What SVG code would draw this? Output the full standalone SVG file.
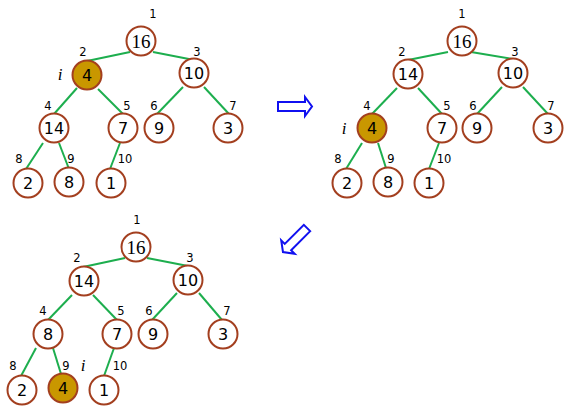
<svg xmlns="http://www.w3.org/2000/svg" width="564" height="411" viewBox="0 0 564 411">
<style>
.n{fill:#fff;stroke:#A33F1F;stroke-width:2}
.g{fill:#C99700;stroke:#A33F1F;stroke-width:2}
.e{stroke:#1DAE4E;stroke-width:2;fill:none}
.t{font-family:"DejaVu Sans","Liberation Sans",sans-serif;font-size:16px;text-anchor:middle;fill:#000}
.r{font-family:"Liberation Serif","Times New Roman",serif;font-size:19px;text-anchor:middle;fill:#000}
.x{font-family:"DejaVu Sans","Liberation Sans",sans-serif;font-size:11.5px;text-anchor:middle;fill:#000}
.i{font-family:"Liberation Serif","Times New Roman",serif;font-style:italic;font-size:17px;text-anchor:middle;fill:#000}
.a{fill:#fff;stroke:#1010F0;stroke-width:2;stroke-linejoin:miter}
</style>
<defs>
<polygon id="arr" points="-17,-4.5 10,-4.5 10,-9.5 17,0 10,9.5 10,4.5 -17,4.5"/>
</defs>
<g id="connectors">
<!-- tree 1 -->
<line class="e" x1="130" y1="52" x2="87" y2="61"/>
<line class="e" x1="153" y1="52" x2="194" y2="60"/>
<line class="e" x1="77" y1="88" x2="54" y2="114"/>
<line class="e" x1="98" y1="89" x2="123" y2="114"/>
<line class="e" x1="183" y1="87" x2="157" y2="114"/>
<line class="e" x1="204" y1="87" x2="229" y2="114"/>
<line class="e" x1="43" y1="143" x2="26" y2="169"/>
<line class="e" x1="59" y1="143" x2="69" y2="169"/>
<line class="e" x1="120" y1="143" x2="110" y2="169"/>
<!-- tree 2 -->
<line class="e" x1="448" y1="52" x2="408" y2="60"/>
<line class="e" x1="471" y1="52" x2="513" y2="59"/>
<line class="e" x1="397" y1="88" x2="372" y2="114"/>
<line class="e" x1="418" y1="88" x2="442" y2="114"/>
<line class="e" x1="502" y1="87" x2="477" y2="114"/>
<line class="e" x1="523" y1="87" x2="548" y2="114"/>
<line class="e" x1="362" y1="143" x2="346" y2="169"/>
<line class="e" x1="378" y1="143" x2="386" y2="168"/>
<line class="e" x1="439" y1="143" x2="429" y2="169"/>
<!-- tree 3 -->
<line class="e" x1="125" y1="258" x2="83" y2="267"/>
<line class="e" x1="147" y1="258" x2="188" y2="266"/>
<line class="e" x1="72" y1="295" x2="48" y2="320"/>
<line class="e" x1="93" y1="295" x2="117" y2="320"/>
<line class="e" x1="177" y1="293" x2="152" y2="320"/>
<line class="e" x1="199" y1="293" x2="222" y2="320"/>
<line class="e" x1="36" y1="348" x2="21" y2="376"/>
<line class="e" x1="53" y1="348" x2="61" y2="374"/>
<line class="e" x1="114" y1="348" x2="104" y2="376"/>
</g>
<!-- tree 1 -->
<g id="t1-n1"><circle class="n" cx="141" cy="41" r="14.5"/><text class="r" x="141" y="47.5">16</text><text class="x" x="153" y="18">1</text></g>
<g id="t1-n2"><circle class="g" cx="87" cy="75" r="14.5"/><text class="t" x="87" y="81">4</text><text class="x" x="83" y="56">2</text><text class="i" x="60" y="80">i</text></g>
<g id="t1-n3"><circle class="n" cx="194" cy="73" r="14.5"/><text class="t" x="194" y="79">10</text><text class="x" x="197" y="56">3</text></g>
<g id="t1-n4"><circle class="n" cx="54" cy="128" r="14.5"/><text class="t" x="54" y="134">14</text><text class="x" x="48" y="110">4</text></g>
<g id="t1-n5"><circle class="n" cx="123" cy="128" r="14.5"/><text class="t" x="123" y="134">7</text><text class="x" x="127" y="110">5</text></g>
<g id="t1-n6"><circle class="n" cx="159" cy="128" r="14.5"/><text class="t" x="159" y="134">9</text><text class="x" x="154" y="110">6</text></g>
<g id="t1-n7"><circle class="n" cx="228" cy="128" r="14.5"/><text class="t" x="228" y="134">3</text><text class="x" x="233" y="110">7</text></g>
<g id="t1-n8"><circle class="n" cx="28" cy="183" r="14.5"/><text class="t" x="28" y="189">2</text><text class="x" x="19" y="163">8</text></g>
<g id="t1-n9"><circle class="n" cx="69" cy="182" r="14.5"/><text class="t" x="69" y="188">8</text><text class="x" x="71" y="163">9</text></g>
<g id="t1-n10"><circle class="n" cx="111" cy="183" r="14.5"/><text class="t" x="111" y="189">1</text><text class="x" x="125" y="163">10</text></g>
<!-- arrows -->
<g id="arrow-right"><use href="#arr" class="a" transform="translate(295,106.5)"/></g>
<g id="arrow-down-left"><use href="#arr" class="a" transform="translate(295,240) rotate(135)"/></g>
<!-- tree 2 -->
<g id="t2-n1"><circle class="n" cx="462" cy="41" r="14.5"/><text class="r" x="462" y="47.5">16</text><text class="x" x="462" y="18">1</text></g>
<g id="t2-n2"><circle class="n" cx="408" cy="74" r="14.5"/><text class="t" x="408" y="80">14</text><text class="x" x="402" y="56">2</text></g>
<g id="t2-n3"><circle class="n" cx="513" cy="73" r="14.5"/><text class="t" x="513" y="79">10</text><text class="x" x="515" y="56">3</text></g>
<g id="t2-n4"><circle class="g" cx="372" cy="128" r="14.5"/><text class="t" x="372" y="134">4</text><text class="x" x="367" y="110">4</text><text class="i" x="344" y="134">i</text></g>
<g id="t2-n5"><circle class="n" cx="442" cy="128" r="14.5"/><text class="t" x="442" y="134">7</text><text class="x" x="447" y="110">5</text></g>
<g id="t2-n6"><circle class="n" cx="477" cy="128" r="14.5"/><text class="t" x="477" y="134">9</text><text class="x" x="473" y="110">6</text></g>
<g id="t2-n7"><circle class="n" cx="548" cy="128" r="14.5"/><text class="t" x="548" y="134">3</text><text class="x" x="551" y="110">7</text></g>
<g id="t2-n8"><circle class="n" cx="347" cy="183" r="14.5"/><text class="t" x="347" y="189">2</text><text class="x" x="338" y="163">8</text></g>
<g id="t2-n9"><circle class="n" cx="388" cy="182" r="14.5"/><text class="t" x="388" y="188">8</text><text class="x" x="391" y="163">9</text></g>
<g id="t2-n10"><circle class="n" cx="429" cy="183" r="14.5"/><text class="t" x="429" y="189">1</text><text class="x" x="444" y="163">10</text></g>
<!-- tree 3 -->
<g id="t3-n1"><circle class="n" cx="136" cy="247" r="14.5"/><text class="r" x="136" y="253.5">16</text><text class="x" x="137" y="224">1</text></g>
<g id="t3-n2"><circle class="n" cx="84" cy="281" r="14.5"/><text class="t" x="84" y="287">14</text><text class="x" x="77" y="262">2</text></g>
<g id="t3-n3"><circle class="n" cx="188" cy="280" r="14.5"/><text class="t" x="188" y="286">10</text><text class="x" x="190" y="262">3</text></g>
<g id="t3-n4"><circle class="n" cx="48" cy="334" r="14.5"/><text class="t" x="48" y="340">8</text><text class="x" x="43" y="315">4</text></g>
<g id="t3-n5"><circle class="n" cx="117" cy="334" r="14.5"/><text class="t" x="117" y="340">7</text><text class="x" x="121" y="315">5</text></g>
<g id="t3-n6"><circle class="n" cx="153" cy="334" r="14.5"/><text class="t" x="153" y="340">9</text><text class="x" x="149" y="315">6</text></g>
<g id="t3-n7"><circle class="n" cx="223" cy="334" r="14.5"/><text class="t" x="223" y="340">3</text><text class="x" x="227" y="315">7</text></g>
<g id="t3-n8"><circle class="n" cx="22" cy="390" r="14.5"/><text class="t" x="22" y="396">2</text><text class="x" x="13" y="370">8</text></g>
<g id="t3-n9"><circle class="g" cx="63" cy="388" r="14.5"/><text class="t" x="63" y="394">4</text><text class="x" x="66" y="370">9</text><text class="i" x="83" y="371">i</text></g>
<g id="t3-n10"><circle class="n" cx="104" cy="390" r="14.5"/><text class="t" x="104" y="396">1</text><text class="x" x="120" y="370">10</text></g>
</svg>
